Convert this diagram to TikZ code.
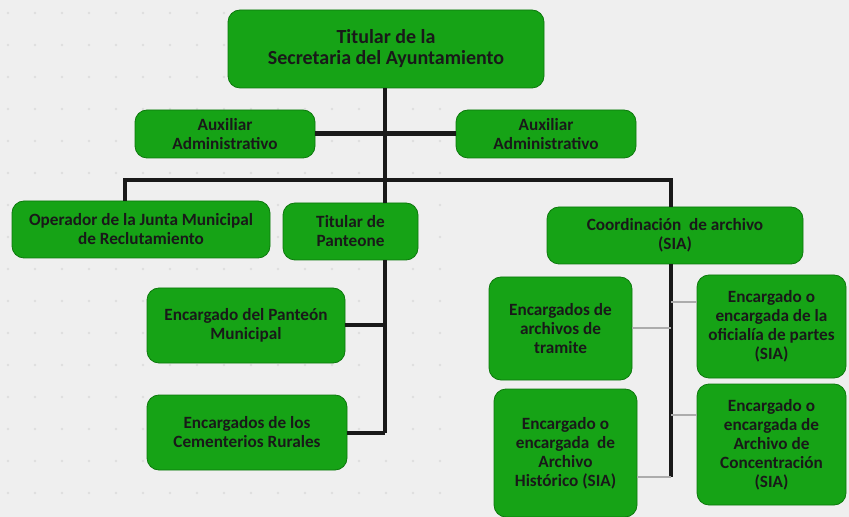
\documentclass[tikz,border=0pt]{standalone}
\usepackage{fontspec}
\setmainfont{Carlito}
\usetikzlibrary{calc}

\definecolor{boxgreen}{RGB}{22,163,22}
\definecolor{boxline}{RGB}{12,120,12}
\definecolor{bgback}{RGB}{239,239,239}
\definecolor{dotgray}{RGB}{222,222,222}

\begin{document}
\begin{tikzpicture}[x=0.5pt, y=-0.5pt,
                    every node/.style={font=\bfseries\fontsize{8.6}{9.5}\selectfont, text=black!90},
                    cargo/.style={draw=boxline, fill=boxgreen, rounded corners=6pt, align=center, inner sep=1pt},
                    linea/.style={line width=2pt, black!90},
                    lineaaux/.style={line width=2.5pt, black!90},
                    lineafina/.style={line width=1pt, gray!65}
]
\useasboundingbox[fill=bgback] (0,0) rectangle (849,517);
% puntos del fondo
\foreach \i in {0,...,16}
  \foreach \j in {0,...,15}
    \fill[dotgray] (\i*27+8, \j*32+13) circle (1.3);

\node [cargo, minimum width=158pt, minimum height=39pt, font=\bfseries\fontsize{10}{10.5}\selectfont] at (386,49) (tit) {Titular de la\\Secretaria del Ayuntamiento};
\node [cargo, minimum width=90pt, minimum height=24pt] at (225,134) (aux1) {Auxiliar\\Administrativo};
\node [cargo, minimum width=90pt, minimum height=24pt] at (546,134) (aux2) {Auxiliar\\Administrativo};
%
\node [cargo, minimum width=129pt, minimum height=28.5pt] at (141,229.5) (op1) {Operador de la Junta Municipal\\de Reclutamiento};
\node [cargo, minimum width=67.5pt, minimum height=28.5pt] at (350.5,231.5) (pan1) {Titular de\\Panteone};
\node [cargo, minimum width=99pt, minimum height=37.5pt] at (246,325.5) (enc1) {Encargado del Panteón\\Municipal};
\node [cargo, minimum width=100pt, minimum height=37.5pt] at (247,432.5) (enc2) {Encargados de los\\Cementerios Rurales};
%
\node [cargo, minimum width=128pt, minimum height=28.5pt] at (675,235.5) (coord1) {Coordinación~ de archivo\\(SIA)};
\node [cargo, minimum width=71.5pt, minimum height=51.5pt] at (560.5,328.5) (arch1) {Encargados de\\archivos de\\tramite};
\node [cargo, minimum width=74.5pt, minimum height=51.5pt] at (771.5,326.5) (arch2) {Encargado o\\encargada de la\\oficialía de partes\\(SIA)};
\node [cargo, minimum width=71.5pt, minimum height=64pt] at (565.5,453) (arch3) {Encargado o\\encargada~ de\\Archivo\\Histórico (SIA)};
\node [cargo, minimum width=74.5pt, minimum height=60.5pt] at (771.5,444.5) (arch4) {Encargado o\\encargada de\\Archivo de\\Concentración\\(SIA)};

\coordinate (busL) at (125,180);
\coordinate (busR) at (671,180);
\coordinate (trunk) at (385,180);
\coordinate (panEnd) at (385,433);
\coordinate (archEnd) at (671,477);

% lineas principales
\draw [linea] (tit.south -| trunk) -- (trunk);
\draw [lineaaux] (aux1.east) -- (aux2.west);
\draw [linea] (busL |- op1.north) -- (busL) -- (busR) -- (busR |- coord1.north);
\draw [linea] (trunk) -- (trunk |- pan1.north);
\draw [linea] (panEnd |- pan1.south) -- (panEnd);
\draw [linea] (enc1.east) -- (enc1.east -| panEnd);
\draw [linea] (enc2.east) -- (enc2.east -| panEnd);
\draw [linea] (archEnd |- coord1.south) -- (archEnd);

% lineas de archivo
\draw [lineafina] (arch1.east) -- (arch1.east -| archEnd);
\draw [lineafina] ($(arch2.west)+(0,-24)$) -- ++(-26,0);
\draw [lineafina] (arch3.east |- archEnd) -- (archEnd);
\draw [lineafina] ($(arch4.west)+(0,-30)$) -- ++(-26,0);
\end{tikzpicture}
\end{document}
